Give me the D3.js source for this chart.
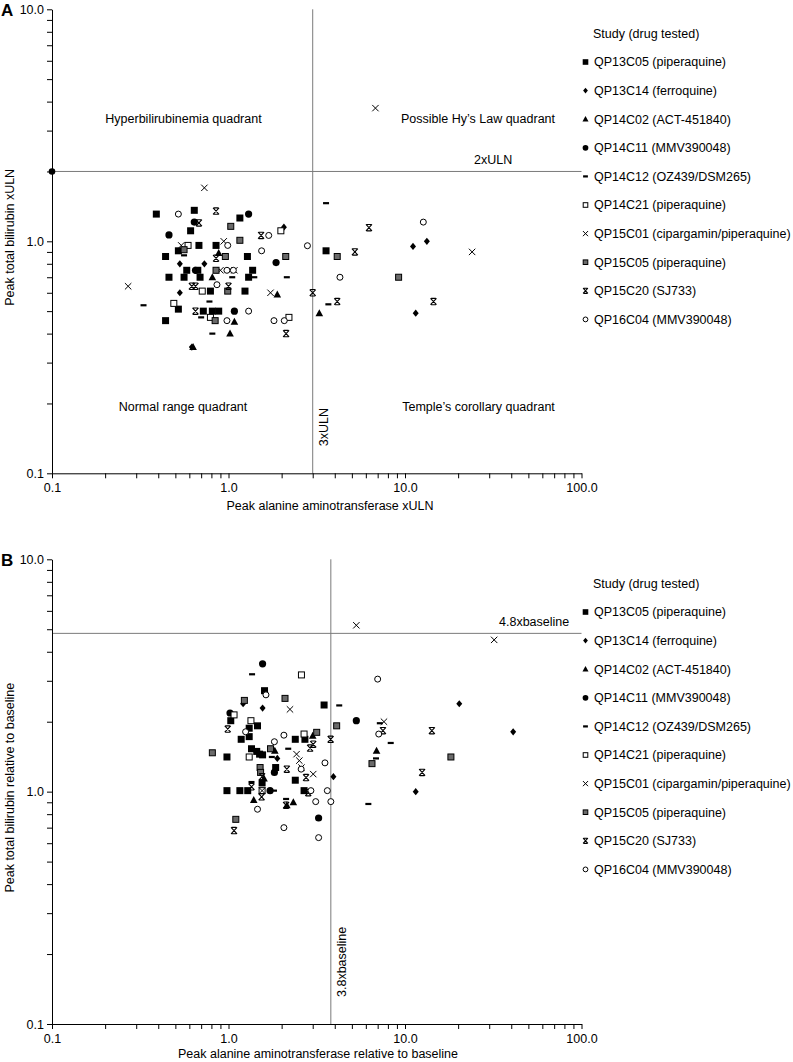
<!DOCTYPE html>
<html><head><meta charset="utf-8">
<script src="https://cdn.jsdelivr.net/npm/d3@7"></script>
<style>body{margin:0;background:#fff}svg{display:block}text{font-family:"Liberation Sans",Arial,sans-serif;fill:#000}</style>
</head><body><svg id="c" width="793" height="1062"></svg>
<script>
const studies = ["QP13C05 (piperaquine)","QP13C14 (ferroquine)","QP14C02 (ACT-451840)","QP14C11 (MMV390048)","QP14C12 (OZ439/DSM265)","QP14C21 (piperaquine)","QP15C01 (cipargamin/piperaquine)","QP15C05 (piperaquine)","QP15C20 (SJ733)","QP16C04 (MMV390048)"];
const symbolTypes = ["square","diamond","triangle","circle","dash","openSquare","cross","graySquare","xbar","openCircle"];

// Panel A: peak ALT xULN vs peak bilirubin xULN
const A_QP13C05 = [[0.39,1.31],[0.64,1.36],[1.16,1.26],[0.61,1.11],[0.52,0.91],[0.68,0.96],[0.85,0.96],[0.44,0.86],[1.28,0.86],[0.58,0.75],[0.67,0.75],[1.37,0.75],[0.46,0.70],[0.56,0.70],[0.69,0.70],[1.30,0.70],[0.79,0.61],[1.24,0.61],[0.52,0.51],[0.72,0.50],[0.81,0.50],[0.88,0.50],[0.44,0.455],[3.57,0.91]];
const A_QP13C14 = [[2.06,1.15],[0.53,0.80],[0.73,0.80],[0.53,0.60],[0.62,0.35],[13.3,1.0],[11.1,0.95],[11.5,0.49]];
const A_QP14C02 = [[0.88,0.89],[0.81,0.70],[1.89,0.59],[1.08,0.45],[1.02,0.40],[0.63,0.35],[3.27,0.49]];
const A_QP14C11 = [[1.30,1.31],[0.64,1.21],[0.46,1.065],[1.86,0.81],[0.65,0.75],[1.08,0.50]];
const A_QP14C12 = [[0.56,0.87],[1.05,0.70],[1.40,0.70],[2.14,0.70],[0.33,0.53],[0.78,0.55],[0.70,0.47],[0.81,0.40],[3.57,1.46],[3.68,0.535]];
const A_QP14C21 = [[1.98,1.11],[0.59,0.96],[0.71,0.61],[0.49,0.54],[0.79,0.47],[2.20,0.47]];
const A_QP15C01 = [[0.73,1.70],[0.94,1.0],[0.54,0.96],[0.90,0.75],[1.08,0.75],[0.27,0.64],[1.73,0.60],[24,0.90],[6.8,3.75]];
const A_QP15C05 = [[1.03,1.16],[1.16,1.01],[0.56,0.92],[0.96,0.86],[2.11,0.86],[0.85,0.75],[0.99,0.61],[0.84,0.455],[4.13,0.86],[9.2,0.70]];
const A_QP15C20 = [[0.85,1.35],[0.68,1.20],[1.53,1.06],[0.85,0.845],[0.62,0.64],[0.65,0.64],[1.0,0.64],[0.65,0.50],[2.12,0.40],[6.25,1.145],[5.2,0.90],[3.0,0.60],[4.13,0.55],[14.5,0.55]];
const A_QP16C04 = [[0.52,1.31],[0.99,0.96],[1.69,1.06],[1.54,0.91],[0.98,0.75],[1.065,0.75],[0.86,0.65],[1.30,0.50],[0.98,0.455],[1.81,0.455],[2.07,0.455],[2.80,0.957],[4.28,0.70],[12.7,1.21]];
const A_axisDot = [[0.1,2]];

// Panel B: values relative to baseline
const B_QP13C05 = [[1.60,2.72],[3.48,2.36],[1.03,2.02],[1.31,1.875],[1.46,1.92],[1.31,1.725],[1.18,1.68],[2.39,1.68],[2.71,1.68],[0.98,1.41],[1.35,1.53],[1.445,1.49],[1.50,1.45],[1.56,1.44],[1.85,1.27],[2.39,1.12],[1.55,1.09],[0.98,1.01],[1.16,1.01],[1.285,1.01],[2.68,1.01]];
const B_QP13C14 = [[1.56,2.29],[1.21,2.39],[1.89,1.39],[3.93,1.16],[20.3,2.39],[41,1.81],[11.5,1.0]];
const B_QP14C02 = [[3.0,1.74],[1.83,1.50],[1.59,1.14],[1.39,0.92],[2.14,0.874],[2.33,0.90],[6.9,1.50]];
const B_QP14C11 = [[1.56,3.55],[5.3,2.02],[1.02,2.18],[1.82,1.21],[1.72,1.01],[3.24,0.77]];
const B_QP14C12 = [[1.36,3.2],[4.24,2.35],[2.18,1.53],[1.76,1.41],[1.35,1.10],[1.81,1.01],[2.12,0.93],[7.2,1.97],[8.3,1.62],[6.85,1.39],[6.2,0.885]];
const B_QP14C21 = [[2.59,3.18],[1.075,2.14],[1.34,2.02],[2.68,1.77],[1.31,1.41],[1.55,1.01]];
const B_QP15C01 = [[2.23,2.26],[2.43,1.45],[2.52,1.36],[3.02,1.19],[2.59,1.27],[1.55,1.01],[7.6,2.0],[5.3,5.2],[32,4.5]];
const B_QP15C05 = [[2.09,2.52],[1.23,2.47],[3.16,1.80],[4.10,1.92],[0.81,1.47],[1.73,1.53],[1.51,1.27],[1.52,1.21],[1.10,0.76],[6.5,1.32],[18.2,1.41]];
const B_QP15C20 = [[0.99,1.86],[3.02,1.60],[2.90,1.54],[3.79,1.68],[2.14,1.25],[1.55,1.16],[2.75,1.15],[1.35,1.05],[2.83,0.99],[1.54,0.95],[2.12,0.874],[1.075,0.68],[7.5,1.83],[14.2,1.83],[12.5,1.21]];
const B_QP16C04 = [[1.63,2.61],[1.25,1.81],[1.82,1.64],[2.06,1.75],[3.52,1.33],[2.58,1.25],[2.93,1.01],[3.63,1.01],[3.12,0.906],[3.80,0.906],[1.46,0.84],[2.06,0.70],[3.24,0.634],[7.0,3.05],[7.1,1.77]];

const xTickLabels = ["0.1","1.0","10.0","100.0"];
const yTickLabels = ["0.1","1.0","10.0"];
const panelLetters = ["A","B"];
const xTitles = ["Peak alanine aminotransferase xULN","Peak alanine aminotransferase relative to baseline"];
const yTitles = ["Peak total bilirubin xULN","Peak total bilirubin relative to baseline"];
const hLineValues = [2, 4.8];
const vLineValues = [3, 3.8];
const hLineLabels = ["2xULN","4.8xbaseline"];
const vLineLabels = ["3xULN","3.8xbaseline"];
const quadrantLabels = ["Hyperbilirubinemia quadrant","Possible Hy\u2019s Law quadrant","Normal range quadrant","Temple\u2019s corollary quadrant"];
const legendTitle = "Study (drug tested)";

const panels = [
  {data:[A_QP13C05,A_QP13C14,A_QP14C02,A_QP14C11,A_QP14C12,A_QP14C21,A_QP15C01,A_QP15C05,A_QP15C20,A_QP16C04], top:9.3, bottom:473.3, xTitleX:330, xTitleDy:37, hLabelX:474, quads:true, dot:A_axisDot},
  {data:[B_QP13C05,B_QP13C14,B_QP14C02,B_QP14C11,B_QP14C12,B_QP14C21,B_QP15C01,B_QP15C05,B_QP15C20,B_QP16C04], top:559.3, bottom:1024, xTitleX:318, xTitleDy:34, hLabelX:499, quads:false, dot:[]}
];

const svg = d3.select("#c");
const X0 = 52, X1 = 581.5;
const FONT = "Liberation Sans, Arial, sans-serif";
const FS = 12.5;

function drawMarker(g, type, s) {
  const h = 3.5*s;
  switch(type){
    case "square": g.append("rect").attr("x",-h).attr("y",-h).attr("width",2*h).attr("height",2*h).attr("fill","#000"); break;
    case "graySquare": g.append("rect").attr("x",-h+0.5).attr("y",-h+0.5).attr("width",2*h-1).attr("height",2*h-1).attr("fill","#6a6a6a").attr("stroke","#000").attr("stroke-width",1); break;
    case "openSquare": g.append("rect").attr("x",-h+0.5).attr("y",-h+0.5).attr("width",2*h-1).attr("height",2*h-1).attr("fill","#fff").attr("stroke","#000").attr("stroke-width",1); break;
    case "diamond": g.append("path").attr("d",`M0,${-3.6*s}L${3*s},0L0,${3.6*s}L${-3*s},0Z`).attr("fill","#000"); break;
    case "triangle": g.append("path").attr("d",`M0,${-4*s}L${3.8*s},${3*s}L${-3.8*s},${3*s}Z`).attr("fill","#000"); break;
    case "circle": g.append("circle").attr("r",3.6*s).attr("fill","#000"); break;
    case "openCircle": g.append("circle").attr("r",3*s).attr("fill","#fff").attr("stroke","#000").attr("stroke-width",1); break;
    case "dash": g.append("rect").attr("x",-3*s).attr("y",-1.1).attr("width",6*s).attr("height",2.2).attr("fill","#000"); break;
    case "cross": g.append("path").attr("d",`M${-3.2*s},${-3.2*s}L${3.2*s},${3.2*s}M${3.2*s},${-3.2*s}L${-3.2*s},${3.2*s}`).attr("stroke","#000").attr("stroke-width",1).attr("fill","none"); break;
    case "xbar": g.append("path").attr("d",`M${-3*s},${-3.2*s}L${3*s},${3.2*s}M${3*s},${-3.2*s}L${-3*s},${3.2*s}M${-2.4*s},${-3.2*s}L${2.4*s},${-3.2*s}M${-2.4*s},${3.2*s}L${2.4*s},${3.2*s}`).attr("stroke","#000").attr("stroke-width",1.1).attr("fill","none"); break;
  }
}

function isMajor(v){ const l=Math.log10(v); return Math.abs(l-Math.round(l))<1e-6; }
function tickVals(lo, hi){ const out=[]; for(let d=lo; d<hi*0.999; d*=10){ for(let k=1;k<10;k++) out.push(+(k*d).toPrecision(3)); } out.push(hi); return out; }

panels.forEach((p, pi) => {
  const x = d3.scaleLog().domain([0.1,100]).range([X0,X1]);
  const y = d3.scaleLog().domain([0.1,10]).range([p.bottom,p.top]);
  const g = svg.append("g");

  g.append("line").attr("x1",X0).attr("x2",X1).attr("y1",y(hLineValues[pi])).attr("y2",y(hLineValues[pi])).attr("stroke","#7a7a7a").attr("stroke-width",1);
  g.append("line").attr("x1",x(vLineValues[pi])).attr("x2",x(vLineValues[pi])).attr("y1",p.top).attr("y2",p.bottom).attr("stroke","#7a7a7a").attr("stroke-width",1);

  const xLabels = {}; [0.1,1,10,100].forEach((v,i)=>xLabels[v]=xTickLabels[i]);
  const yLabels = {}; [0.1,1,10].forEach((v,i)=>yLabels[v]=yTickLabels[i]);
  const xa = g.append("g").attr("transform",`translate(0,${p.bottom})`)
    .call(d3.axisBottom(x).tickValues(tickVals(0.1,100)).tickSize(5).tickSizeOuter(0).tickPadding(5)
      .tickFormat(v => isMajor(v) ? xLabels[+v.toPrecision(3)] : ""));
  const ya = g.append("g").attr("transform",`translate(${X0},0)`)
    .call(d3.axisLeft(y).tickValues(tickVals(0.1,10)).tickSize(5).tickSizeOuter(0).tickPadding(3)
      .tickFormat(v => isMajor(v) ? yLabels[+v.toPrecision(3)] : ""));
  [xa,ya].forEach(a => { a.attr("font-size",FS).attr("font-family",FONT);
    a.selectAll("path,line").attr("stroke","#000").attr("stroke-width",1);
    a.selectAll("text").attr("fill","#000"); });

  g.append("text").attr("x",p.xTitleX).attr("y",p.bottom+p.xTitleDy).attr("text-anchor","middle").attr("font-size",FS).text(xTitles[pi]);
  g.append("text").attr("transform",`translate(14,${(p.top+p.bottom)/2-4}) rotate(-90)`).attr("text-anchor","middle").attr("font-size",FS).text(yTitles[pi]);
  g.append("text").attr("x",1).attr("y",p.top+6.5).attr("font-size",17).attr("font-weight","bold").text(panelLetters[pi]);
  g.append("text").attr("x",p.hLabelX).attr("y",y(hLineValues[pi])-7).attr("font-size",FS).text(hLineLabels[pi]);
  g.append("text").attr("transform",`translate(${x(vLineValues[pi])+15},${p.bottom-27}) rotate(-90)`).attr("font-size",FS).text(vLineLabels[pi]);

  if (p.quads) {
    const qy1 = p.top + 114, qy2 = p.top + 402;
    [[183.5,qy1],[478,qy1],[183,qy2],[478.5,qy2]].forEach((c,i)=>
      g.append("text").attr("x",c[0]).attr("y",c[1]).attr("text-anchor","middle").attr("font-size",FS).text(quadrantLabels[i]));
  }

  const pts = g.append("g");
  p.data.forEach((arr, si) => {
    arr.forEach(d => {
      const m = pts.append("g").attr("transform",`translate(${x(d[0])},${y(d[1])})`);
      drawMarker(m, symbolTypes[si], 1);
    });
  });
  p.dot.forEach(d => g.append("circle").attr("cx",x(d[0])).attr("cy",y(d[1])).attr("r",3.3).attr("fill","#000"));

  const ly = p.top + 24.7;
  g.append("text").attr("x",593).attr("y",ly+4).attr("font-size",FS).text(legendTitle);
  studies.forEach((s, si) => {
    const cy = p.top + 52.7 + si*28.6;
    const m = g.append("g").attr("transform",`translate(585.5,${cy})`);
    drawMarker(m, symbolTypes[si], 0.8);
    g.append("text").attr("x",594).attr("y",cy+4.3).attr("font-size",FS).text(s);
  });
});
</script></body></html>
